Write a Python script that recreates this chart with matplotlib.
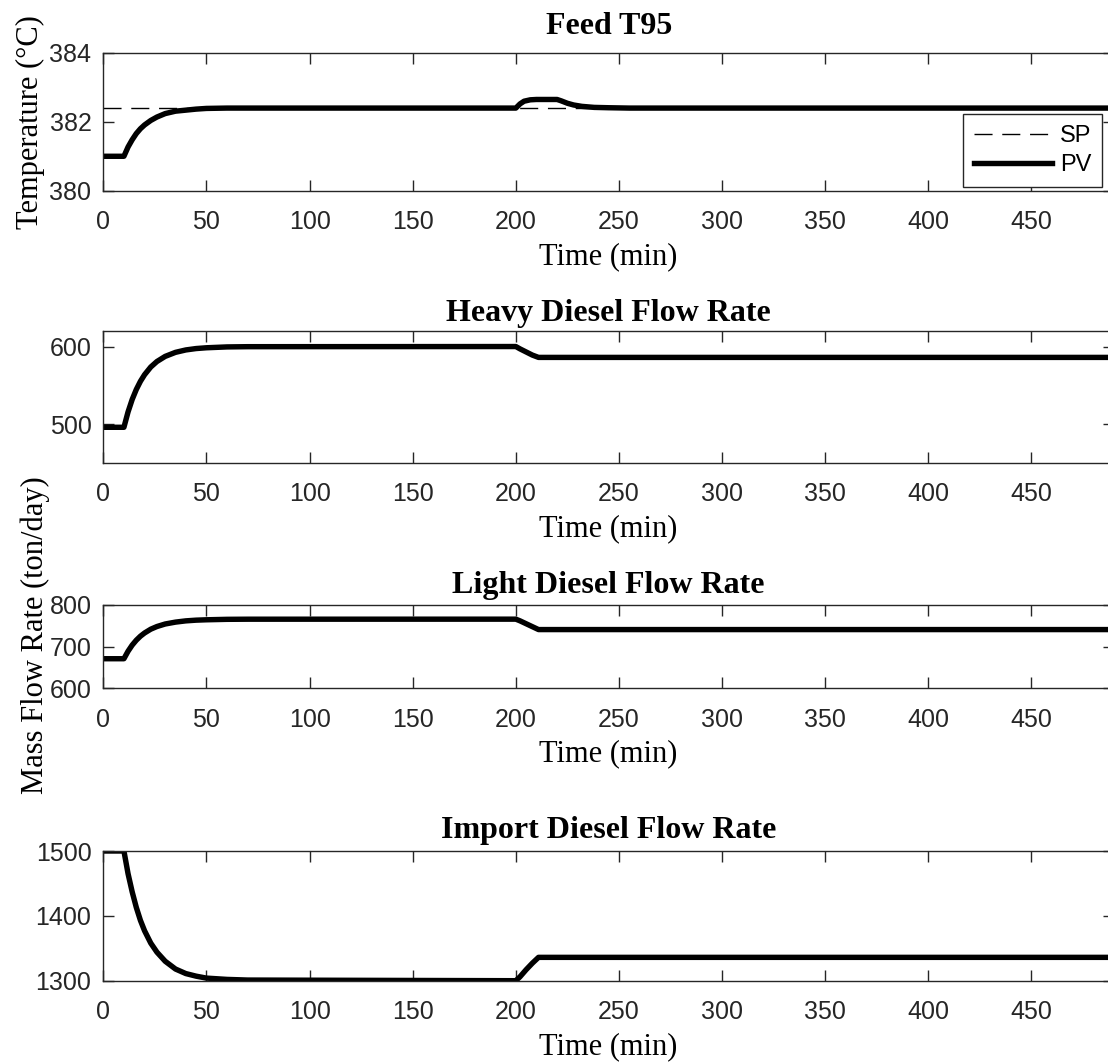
import matplotlib
matplotlib.use("Agg")
import matplotlib.pyplot as plt

# ---- Feed T95 loop (degC) ----
t95_time = [0, 10, 12, 14, 16, 18, 20, 23, 26, 30, 35, 40, 45, 50, 60,
            200, 202, 204, 207, 210, 220, 222, 225, 228, 232, 238, 245, 255, 490]
t95_pv = [381.0, 381.0, 381.27, 381.48, 381.66, 381.80, 381.91, 382.04, 382.14,
          382.24, 382.31, 382.34, 382.37, 382.39, 382.40,
          382.40, 382.52, 382.60, 382.64, 382.65, 382.65, 382.61, 382.54, 382.49,
          382.45, 382.42, 382.41, 382.40, 382.40]
t95_sp_time = [0, 490]
t95_sp = [382.4, 382.4]

# ---- Draw flows (ton/day) ----
flow_time = [0, 10, 12, 14, 16, 18, 20, 23, 26, 30, 35, 40, 45, 50, 60, 70,
             200, 202, 205, 208, 211, 490]
heavy_flow = [496, 496, 515.8, 531.8, 544.7, 555.2, 563.7, 573.6, 580.7, 587.3,
              592.5, 595.6, 597.4, 598.4, 599.5, 599.8, 600, 597, 593, 589, 586, 586]
light_flow = [671, 671, 689.0, 703.7, 715.5, 725.1, 732.8, 741.9, 748.3, 754.4,
              758.9, 761.9, 763.6, 764.5, 765.6, 765.9, 766, 762, 755, 748, 741, 741]
import_flow = [1500, 1500, 1465, 1437, 1413, 1393, 1377, 1358, 1344, 1330, 1318,
               1311, 1307, 1304, 1302, 1301, 1300, 1306, 1317, 1327, 1336, 1336]

titles = ["Feed T95", "Heavy Diesel Flow Rate", "Light Diesel Flow Rate",
          "Import Diesel Flow Rate"]
x_ticks = [0, 50, 100, 150, 200, 250, 300, 350, 400, 450]
y_ticks = [[380, 382, 384], [500, 600], [600, 700, 800], [1300, 1400, 1500]]
y_limits = [(380, 384), (450, 620), (600, 800), (1300, 1500)]

SANS = "Liberation Sans"
SERIF = "Liberation Serif"
INK = "#262626"

W, H = 1108, 1062
fig = plt.figure(figsize=(W / 100, H / 100), dpi=100)

# axes boxes in pixels: (top, bottom)
boxes = [(53, 190.7), (331, 463), (605, 688.3), (851, 980.7)]
left_px, right_px = 103.3, 1114
title_pads = [13.5, 7, 8.5, 9.5]

axes = []
for (top, bot) in boxes:
    ax = fig.add_axes([left_px / W, 1 - bot / H, (right_px - left_px) / W, (bot - top) / H])
    ax.set_xlim(0, 490)
    ax.set_xticks(x_ticks)
    ax.tick_params(axis="both", which="both", direction="in", length=8, width=1,
                   top=True, right=True, colors=INK, labelsize=18, pad=8.5)
    ax.tick_params(axis="x", pad=14)
    for sp in ax.spines.values():
        sp.set_color(INK)
        sp.set_linewidth(1.0)
    ax.set_xlabel("Time (min)", fontfamily=SERIF, fontsize=22, labelpad=5.5, color="black")
    axes.append(ax)

for ax, title, yt, yl, pad in zip(axes, titles, y_ticks, y_limits, title_pads):
    ax.set_title(title, fontfamily=SERIF, fontweight="bold", fontsize=23, pad=pad)
    ax.set_ylim(*yl)
    ax.set_yticks(yt)
    for lab in ax.get_xticklabels() + ax.get_yticklabels():
        lab.set_fontfamily(SANS)

ax1, ax2, ax3, ax4 = axes
ax1.plot(t95_sp_time, t95_sp, color="black", lw=1.0, linestyle=(0, (13, 7)), label="SP")
ax1.plot(t95_time, t95_pv, color="black", lw=3.9, label="PV")
ax2.plot(flow_time, heavy_flow, color="black", lw=3.9)
ax3.plot(flow_time, light_flow, color="black", lw=3.9)
ax4.plot(flow_time, import_flow, color="black", lw=3.9)

ax1.set_ylabel("Temperature (\u00b0C)", fontfamily=SERIF, fontsize=22, labelpad=3)

fig.text(35 / W, 1 - 635 / H, "Mass Flow Rate (ton/day)", rotation=90,
         fontfamily=SERIF, fontsize=22, ha="center", va="center")

leg = ax1.legend(loc="lower right", bbox_to_anchor=(0.988, 0.029), borderaxespad=0,
                 prop={"family": SANS, "size": 17}, handlelength=3.3, handletextpad=0.35,
                 labelspacing=0.3, borderpad=0.45, fancybox=False, framealpha=1)
leg.get_frame().set_edgecolor(INK)
leg.get_frame().set_linewidth(1.0)

fig.savefig("out.png", dpi=100)
